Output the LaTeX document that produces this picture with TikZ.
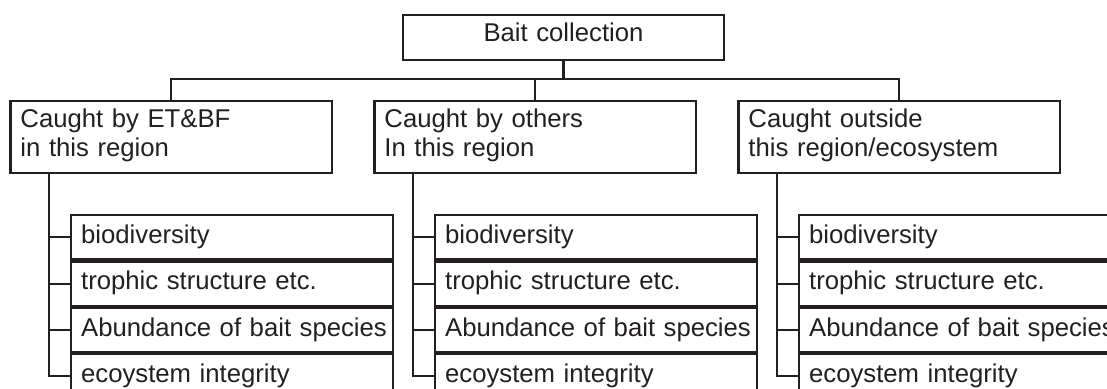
\documentclass[tikz,border=0pt]{standalone}
\usepackage{fontspec}
\setmainfont{Liberation Sans}
\usetikzlibrary{calc}
\definecolor{ink}{HTML}{231F20}
\tikzset{
  boxbase/.style={draw=ink, line width=1.15pt, rectangle, inner xsep=5pt, inner ysep=0pt,
    minimum height=0pt, text width=150.75pt, font=\fontsize{12.85pt}{14.15pt}\selectfont, text=ink},
  topbox/.style={boxbase, align=center, text height=13.35pt, text depth=9pt},
  catbox/.style={boxbase, align=left, anchor=north west, text height=13.35pt, text depth=22.5pt},
  subbox/.style={boxbase, align=left, anchor=north west, text height=14.15pt, text depth=8pt},
  link/.style={draw=ink, line width=1.15pt}
}
\begin{document}
\begin{tikzpicture}[x=0.5pt,y=-0.5pt]
\useasboundingbox (0,0) rectangle (1107,388);
\clip (0,0) rectangle (1107,388);
\node[topbox, anchor=north] (top) at (563.5,14) {Bait collection};
\node[catbox] (b1) at (9.3,100) {Caught by ET\&BF\\in this region};
\node[catbox] (b2) at (373.3,100) {Caught by others\\In this region};
\node[catbox] (b3) at (737.3,100) {Caught outside\\this region/ecosystem};
\coordinate (bus) at (0,79.3);
\draw[link] (top.south) -- (top.south |- bus);
\draw[link] (b1.north) -- (b1.north |- bus) -- (b3.north |- bus) -- (b3.north);
\draw[link] (b2.north) -- (b2.north |- bus);
\foreach \c/\x in {1/70,2/434,3/798}{
  \node[subbox] (s\c1) at (\x,214) {biodiversity};
  \node[subbox] (s\c2) at (\x,260.4) {trophic structure etc.};
  \node[subbox] (s\c3) at (\x,306.7) {\mbox{Abundance of bait species}};
  \node[subbox] (s\c4) at (\x,353) {ecoystem integrity};
  \coordinate (v\c) at ($(b\c.south west)+(40,0)$);
  \draw[link] (v\c) |- (s\c4.west);
  \draw[link] (v\c |- s\c1.west) -- (s\c1.west);
  \draw[link] (v\c |- s\c2.west) -- (s\c2.west);
  \draw[link] (v\c |- s\c3.west) -- (s\c3.west);
}
\end{tikzpicture}
\end{document}
